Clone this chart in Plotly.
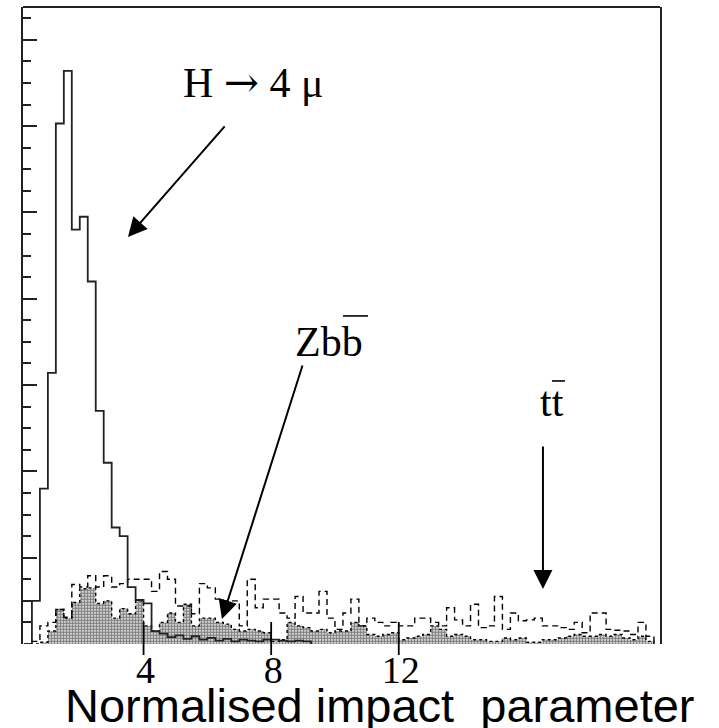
import numpy as np
import plotly.graph_objects as go

# ---- data (histograms, 0.25-wide bins starting at 0.25) ----
bin_lo = 0.25
bin_width = 0.25

h_4mu = [0, 50, 180, 314, 603, 664, 480, 495, 420, 270, 210, 135, 125, 66, 51, 47, 15,
         12, 8, 10, 6, 9, 5, 7, 4, 6, 3, 5, 4, 3, 5,
         5, 4, 3, 4, 3]

ttbar = [0, 3, 21, 25, 40, 31, 69, 66, 79, 66, 79, 66, 70, 75, 75, 75, 61, 84, 75, 44,
         44, 35, 70, 65, 52, 50, 50, 21, 75, 42, 52, 52, 36, 30, 55, 36, 36, 61, 30, 17,
         36, 52, 21, 30, 25, 21, 25, 21, 21, 30, 30, 25, 21, 42, 28, 21, 46, 19, 21, 55,
         17, 36, 27, 28, 30, 21, 21, 19, 17, 25, 13, 36, 36, 17, 16, 15, 11, 25, 9]

zbb = [0, 0, 2, 15, 40, 30, 48, 64, 65, 47, 50, 30, 41, 35, 50, 21, 15, 25, 36, 25,
       46, 21, 30, 30, 25, 23, 17, 15, 17, 15, 13, 3, 5, 25, 21, 19, 15, 17, 13, 15,
       15, 25, 21, 11, 9, 11, 13, 5, 7, 9, 11, 21, 17, 9, 11, 9, 5, 5, 3, 3,
       7, 5, 7, 2, 2, 5, 5, 7, 9, 11, 9, 9, 11, 9, 11, 7, 5, 9, 3]

x_tick_vals = [4, 8, 12]
x_tick_text = ["4", "8", "12"]
x_title = "Normalised impact\u00a0 parameter"

# ---- geometry ----
W, H = 719, 728
ML, MR, MT, MB = 23, 59, 7, 84
PLOT_H = H - MT - MB
x_range = [0.22, 20.19]
y_range = [0, 738]


def step(vals):
    vals = list(vals)
    n = len(vals)
    edges = bin_lo + bin_width * np.arange(n + 1)
    xs = np.concatenate([[edges[0]], edges])
    ys = np.concatenate([[0], vals, [0]])
    return xs, ys


fig = go.Figure()

xz, yz = step(zbb)
fig.add_trace(go.Scatter(
    x=xz, y=yz, mode="lines", line=dict(shape="hv", color="black", width=1.4, dash="dot"),
    fill="tozeroy", fillcolor="rgba(0,0,0,0)",
    fillpattern=dict(shape=".", fgcolor="black", bgcolor="rgba(0,0,0,0)", size=3, solidity=0.7),
    hoverinfo="skip", showlegend=False))

xt, yt = step(ttbar)
fig.add_trace(go.Scatter(
    x=xt, y=yt, mode="lines", line=dict(shape="hv", color="black", width=1.4, dash="6px,4px"),
    hoverinfo="skip", showlegend=False))

xh, yh = step(h_4mu)
fig.add_trace(go.Scatter(
    x=xh, y=yh, mode="lines", line=dict(shape="hv", color="#222", width=1.8),
    hoverinfo="skip", showlegend=False))

serif = "Liberation Serif, Times New Roman, serif"
sans = "Liberation Sans, Arial, sans-serif"

fig.update_layout(
    width=W, height=H, margin=dict(l=ML, r=MR, t=MT, b=MB, pad=0),
    paper_bgcolor="white", plot_bgcolor="white",
    xaxis=dict(range=x_range, showgrid=False, zeroline=False, showline=False,
               tickmode="array", tickvals=x_tick_vals, ticktext=x_tick_text,
               ticks="", tickfont=dict(family=serif, size=38, color="black"),
               ticklabelshift=2, ticklabelstandoff=0),
    yaxis=dict(range=y_range, showgrid=False, zeroline=False,
               showline=True, mirror=True, linecolor="#222", linewidth=1.8,
               ticks="inside", dtick=100, tick0=0, ticklen=14, tickwidth=1.6, tickcolor="#222",
               showticklabels=False,
               minor=dict(ticks="inside", dtick=25, ticklen=8, tickwidth=1.6, tickcolor="#222")),
)

# top frame line
fig.add_shape(type="line", xref="paper", yref="paper", x0=0, x1=1, y0=1, y1=1,
              line=dict(color="#222", width=1.8))
# x ticks crossing the axis (ROOT "+-" ticks)
for v in x_tick_vals:
    fig.add_shape(type="line", xref="x", yref="y domain", x0=v, x1=v,
                  y0=-11 / PLOT_H, y1=22 / PLOT_H, line=dict(color="black", width=1.8))


def xpx(px):
    return (px - 16) / 31.9


def ypx(py):
    return (644 - py) / 0.863


arrow = dict(showarrow=True, arrowhead=2, arrowsize=1.9, arrowwidth=2, arrowcolor="black",
             axref="x", ayref="y", xref="x", yref="y", text="")

fig.add_annotation(x=xpx(128), y=ypx(237), ax=xpx(226), ay=ypx(125), **arrow)
fig.add_annotation(x=xpx(222), y=ypx(619), ax=xpx(303), ay=ypx(364), **arrow)
fig.add_annotation(x=xpx(543), y=ypx(589), ax=xpx(543), ay=ypx(445), **arrow)

txt = dict(showarrow=False, xref="x", yref="y", xanchor="center", yanchor="middle",
           font=dict(family=serif, size=42, color="black"))
fig.add_annotation(x=xpx(254), y=ypx(83),
                   text='H <span style="font-family:DejaVu Serif">\u2192</span> 4 \u03bc', **txt)
fig.add_annotation(x=xpx(329), y=ypx(342), text="Zbb", **txt)
fig.add_annotation(x=xpx(552), y=ypx(402), text="tt", **txt)

# overbars of the anti-quarks
fig.add_shape(type="line", xref="x", yref="y", x0=xpx(343), x1=xpx(368), y0=ypx(316), y1=ypx(316),
              line=dict(color="black", width=1.6))
fig.add_shape(type="line", xref="x", yref="y", x0=xpx(552), x1=xpx(565), y0=ypx(381), y1=ypx(381),
              line=dict(color="black", width=1.6))

fig.add_annotation(x=(380 - ML) / 637, y=-(734 - 644) / PLOT_H, xref="paper", yref="paper",
                   xanchor="center", yanchor="bottom",
                   showarrow=False, text=x_title,
                   font=dict(family=sans, size=47, color="black"))

fig.write_html("out.html")
